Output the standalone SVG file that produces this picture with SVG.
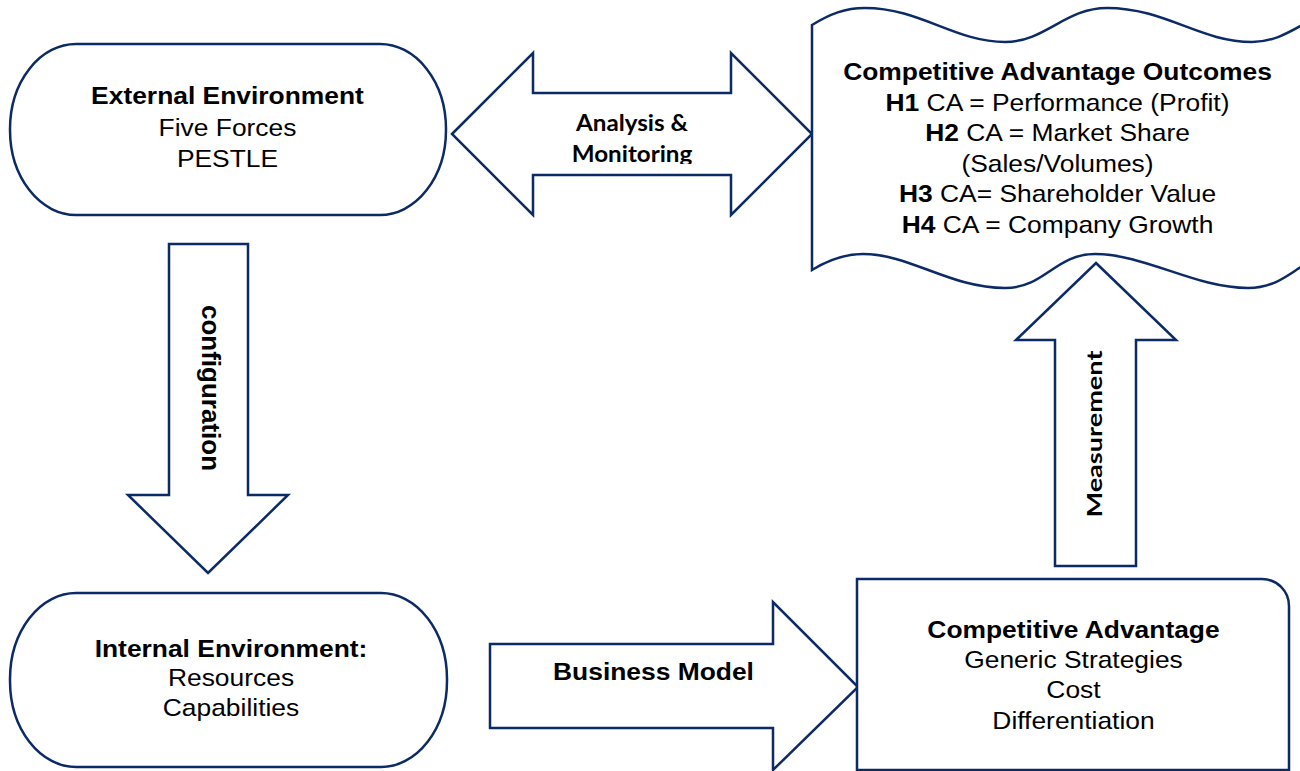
<svg xmlns="http://www.w3.org/2000/svg" width="1300" height="771" viewBox="0 0 1300 771">
<style>
.shape{fill:#ffffff;stroke:#0b2a66;stroke-width:2.5;stroke-linejoin:miter}
.t{font-family:"Liberation Sans",Arial,sans-serif;font-size:24px;fill:#000;text-anchor:middle}
.b{font-weight:bold}
.c{font-family:Lato,"Open Sans",sans-serif;font-weight:bold;font-size:22px;fill:#000;text-anchor:middle}
</style>
<defs>
<clipPath id="clipMon"><rect x="540" y="100" width="190" height="64"/></clipPath>
</defs>
<rect width="1300" height="771" fill="#ffffff"/>

<g id="connectors">
  <g id="arrow-analysis">
    <polygon class="shape" points="452,134 533,53 533,93 731,93 731,53 812,134 731,215 731,175 533,175 533,215"/>
    <g clip-path="url(#clipMon)">
      <g transform="translate(632 0) scale(1.1 1)">
        <text class="c" x="0" y="131">Analysis &amp;</text>
        <text class="c" x="0" y="162">Monitoring</text>
      </g>
    </g>
  </g>
  <g id="arrow-configuration">
    <polygon class="shape" points="169,244 248,244 248,495 288,495 208,573 128,495 169,495"/>
    <text class="t b" font-size="26" style="font-size:26px" transform="translate(202 388) rotate(90)" x="0" y="0">configuration</text>
  </g>
  <g id="arrow-business">
    <polygon class="shape" points="490,644 773,644 773,602 858,687 773,770 773,728 490,728"/>
    <g transform="translate(653.5 0) scale(1.1 1)">
      <text class="t b" x="0" y="680">Business Model</text>
    </g>
  </g>
  <g id="arrow-measurement">
    <polygon class="shape" points="1096,263 1176,340 1136,340 1136,566 1055,566 1055,340 1016,340"/>
    <text class="c" style="font-size:21px" transform="translate(1102 434) rotate(-90)" x="0" y="0" textLength="167" lengthAdjust="spacingAndGlyphs">Measurement</text>
  </g>
</g>

<g id="external">
  <rect class="shape" x="10" y="44" width="436" height="171" rx="66" ry="85"/>
  <g transform="translate(227.5 0) scale(1.1 1)">
    <text class="t b" x="0" y="104">External Environment</text>
    <text class="t" x="0" y="136">Five Forces</text>
    <text class="t" x="0" y="167">PESTLE</text>
  </g>
</g>

<g id="internal">
  <rect class="shape" x="10" y="593" width="437" height="174" rx="66" ry="86"/>
  <g transform="translate(231 0) scale(1.1 1)">
    <text class="t b" x="0" y="657">Internal Environment:</text>
    <text class="t" x="0" y="686">Resources</text>
    <text class="t" x="0" y="716">Capabilities</text>
  </g>
</g>

<g id="outcomes">
  <path class="shape" d="M812,25 C830,14 845,8 865,8 C920,8 955,42 1005,42 C1045,42 1065,8 1107,8 C1165,8 1200,42 1252,42 C1292,42 1312,8 1354,8 L1360,8 L1360,254 L1340,254 C1300,254 1290,288 1248,288 C1195,288 1145,254 1095,254 C1055,254 1045,288 1005,288 C950,288 910,254 863,254 C842,254 825,262 812,270 Z"/>
  <g transform="translate(1057.5 0) scale(1.1 1)">
    <text class="t b" x="0" y="80">Competitive Advantage Outcomes</text>
    <text class="t" x="0" y="111"><tspan class="b">H1</tspan> CA = Performance (Profit)</text>
    <text class="t" x="0" y="141"><tspan class="b">H2</tspan> CA = Market Share</text>
    <text class="t" x="0" y="172">(Sales/Volumes)</text>
    <text class="t" x="0" y="202"><tspan class="b">H3</tspan> CA= Shareholder Value</text>
    <text class="t" x="0" y="233"><tspan class="b">H4</tspan> CA = Company Growth</text>
  </g>
</g>

<g id="competitive-advantage">
  <path class="shape" d="M857,579 H1262 A27,27 0 0 1 1289,606 V770 H857 Z"/>
  <g transform="translate(1073.5 0) scale(1.1 1)">
    <text class="t b" x="0" y="638">Competitive Advantage</text>
    <text class="t" x="0" y="668">Generic Strategies</text>
    <text class="t" x="0" y="698">Cost</text>
    <text class="t" x="0" y="729">Differentiation</text>
  </g>
</g>
</svg>
